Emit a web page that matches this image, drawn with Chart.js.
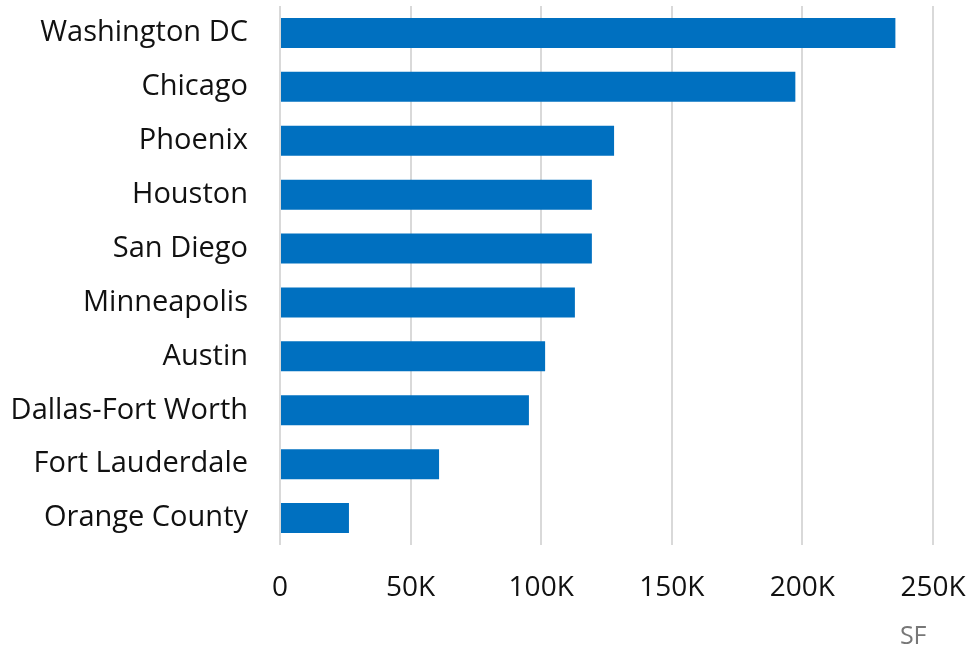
<!DOCTYPE html>
<html>
<head>
<meta charset="utf-8">
<script src="https://cdn.jsdelivr.net/npm/chart.js@4"></script>
<style>
  html, body { margin: 0; padding: 0; background: #fff; }
  #wrap { width: 977px; height: 654px; }
</style>
</head>
<body>
<div id="wrap"><canvas id="myChart"></canvas></div>
<script>
const markets = [
    'Washington DC',
    'Chicago',
    'Phoenix',
    'Houston',
    'San Diego',
    'Minneapolis',
    'Austin',
    'Dallas-Fort Worth',
    'Fort Lauderdale',
    'Orange County',
];

// square feet per market
const sqft = [ 235600, 197300, 127900, 119400, 119400, 112900, 101500, 95300, 60900, 26400 ];

const tickValues = [ 0, 50000, 100000, 150000, 200000, 250000 ];
const tickLabels = [ '0', '50K', '100K', '150K', '200K', '250K' ];

Chart.defaults.font.family = "'Open Sans', sans-serif";

const data = {
    labels: markets,
    datasets: [{
        label: 'SF',
        backgroundColor: '#0070C0',
        borderWidth: 0,
        barPercentage: 0.557,
        categoryPercentage: 1,
        data: sqft,
    }]
};

const config = {
    type: 'bar',
    data: data,
    options: {
        indexAxis: 'y',
        responsive: true,
        maintainAspectRatio: false,
        animation: false,
        layout: {
            padding: { top: 6, right: 44, left: 0, bottom: 2 }
        },
        plugins: {
            legend: { display: false },
            tooltip: { enabled: false }
        },
        scales: {
            x: {
                min: 0,
                max: 250000,
                afterBuildTicks: function(scale) {
                    scale.ticks = tickValues.map(v => ({ value: v }));
                },
                afterFit: function(scale) {
                    scale.height = 107;
                    scale.paddingLeft = 0;
                    scale.paddingRight = 0;
                },
                grid: {
                    color: '#d9d9d9',
                    lineWidth: 2,
                    drawTicks: false
                },
                border: { display: false },
                ticks: {
                    padding: 26,
                    color: '#111',
                    font: { size: 28 },
                    maxRotation: 0,
                    callback: function(value) {
                        return tickLabels[tickValues.indexOf(value)];
                    }
                },
                title: {
                    display: true,
                    text: 'SF ',
                    align: 'end',
                    color: '#777',
                    font: { size: 25 },
                    padding: { top: 17, bottom: 0 }
                }
            },
            y: {
                afterFit: function(scale) {
                    scale.width = 280;
                    scale.paddingTop = 0;
                    scale.paddingBottom = 0;
                },
                grid: { display: false, drawTicks: false },
                border: { display: false },
                ticks: {
                    padding: 32,
                    color: '#111',
                    font: { size: 29 }
                }
            }
        }
    }
};

const myChart = new Chart(
    document.getElementById('myChart'),
    config
);
</script>
</body>
</html>
